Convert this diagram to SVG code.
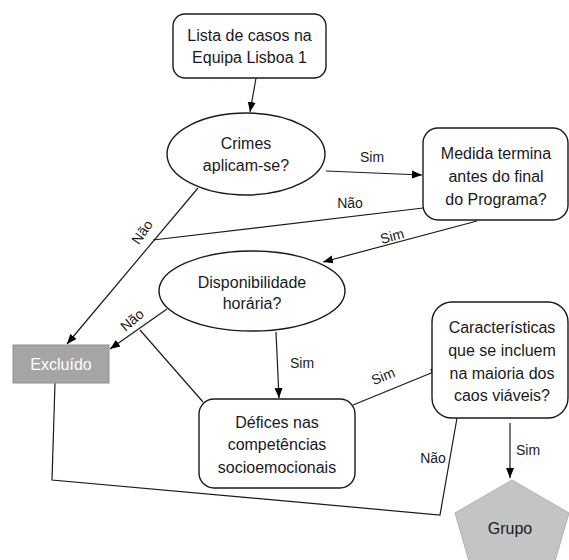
<svg xmlns="http://www.w3.org/2000/svg" width="569" height="560" viewBox="0 0 569 560">
<style>
.bx{fill:#fff;stroke:#1a1a1a;stroke-width:1.4}
.t{font-family:"Liberation Sans",Arial,sans-serif;font-size:16px;fill:#1a1a1a;text-anchor:middle}
.l{font-family:"Liberation Sans",Arial,sans-serif;font-size:14px;fill:#1a1a1a;text-anchor:middle}
.c{fill:none;stroke:#1a1a1a;stroke-width:1.2}
</style>
<defs>
<marker id="ah" markerUnits="userSpaceOnUse" markerWidth="10" markerHeight="10" viewBox="0 0 10 10" refX="10" refY="5" orient="auto">
<path d="M0,1 L10,5 L0,9 Z" fill="#000"/>
</marker>
</defs>
<rect width="569" height="560" fill="#fff"/>
<g id="connectors">
<line class="c" x1="256" y1="78" x2="250" y2="112" marker-end="url(#ah)"/>
<line class="c" x1="326" y1="171" x2="422" y2="175" marker-end="url(#ah)"/>
<line class="c" x1="423" y1="208" x2="153" y2="240"/>
<line class="c" x1="198" y1="188" x2="67" y2="344" marker-end="url(#ah)"/>
<line class="c" x1="477" y1="221" x2="323" y2="262" marker-end="url(#ah)"/>
<line class="c" x1="167" y1="309" x2="110" y2="349" marker-end="url(#ah)"/>
<line class="c" x1="140" y1="330" x2="203" y2="402"/>
<line class="c" x1="276" y1="332" x2="279" y2="398" marker-end="url(#ah)"/>
<line class="c" x1="353" y1="405" x2="441" y2="369" marker-end="url(#ah)"/>
<line class="c" x1="510" y1="423" x2="510" y2="478" marker-end="url(#ah)"/>
<path class="c" d="M55,383 L52,480 L440,515 L457,418"/>
<text class="l" x="372" y="162">Sim</text>
<text class="l" x="350" y="208">Não</text>
<text class="l" transform="translate(392,236) rotate(-15)" y="5">Sim</text>
<text class="l" transform="translate(142,232) rotate(-55)" y="5">Não</text>
<text class="l" transform="translate(132,320) rotate(-40)" y="5">Não</text>
<text class="l" x="302" y="368">Sim</text>
<text class="l" transform="translate(383,376) rotate(-22)" y="5">Sim</text>
<text class="l" x="433" y="463">Não</text>
<text class="l" x="528" y="455">Sim</text>
</g>
<g id="lista">
<rect class="bx" x="173" y="14" width="153" height="64" rx="12"/>
<text class="t" x="249.5" y="41">Lista de casos na</text>
<text class="t" x="249.5" y="63">Equipa Lisboa 1</text>
</g>
<g id="crimes">
<ellipse class="bx" cx="246" cy="154" rx="79" ry="41"/>
<text class="t" x="246" y="149">Crimes</text>
<text class="t" x="246" y="171">aplicam-se?</text>
</g>
<g id="medida">
<rect class="bx" x="423" y="128" width="145" height="92" rx="15"/>
<text class="t" x="496" y="159">Medida termina</text>
<text class="t" x="496" y="182">antes do final</text>
<text class="t" x="496" y="205">do Programa?</text>
</g>
<g id="disponibilidade">
<ellipse class="bx" cx="252" cy="291" rx="93" ry="40"/>
<text class="t" x="252" y="288">Disponibilidade</text>
<text class="t" x="252" y="309">horária?</text>
</g>
<g id="excluido">
<rect x="13" y="345" width="96" height="38" fill="#a5a5a5" stroke="#8f8f8f" stroke-width="1"/>
<text class="t" x="61" y="370" style="fill:#fff">Excluído</text>
</g>
<g id="defices">
<rect class="bx" x="199" y="399" width="156" height="89" rx="15"/>
<text class="t" x="277" y="428">Défices nas</text>
<text class="t" x="277" y="450">competências</text>
<text class="t" x="277" y="473">socioemocionais</text>
</g>
<g id="caracteristicas">
<rect class="bx" x="432" y="302" width="136" height="116" rx="20"/>
<text class="t" x="502" y="333">Características</text>
<text class="t" x="502" y="356">que se incluem</text>
<text class="t" x="502" y="379">na maioria dos</text>
<text class="t" x="502" y="401">caos viáveis?</text>
</g>
<g id="grupo">
<polygon points="512,480 569,513 546,592 478,592 455,513" fill="#c4c4c4" stroke="#b0b0b0" stroke-width="1"/>
<text class="t" x="510" y="534">Grupo</text>
</g>
</svg>
